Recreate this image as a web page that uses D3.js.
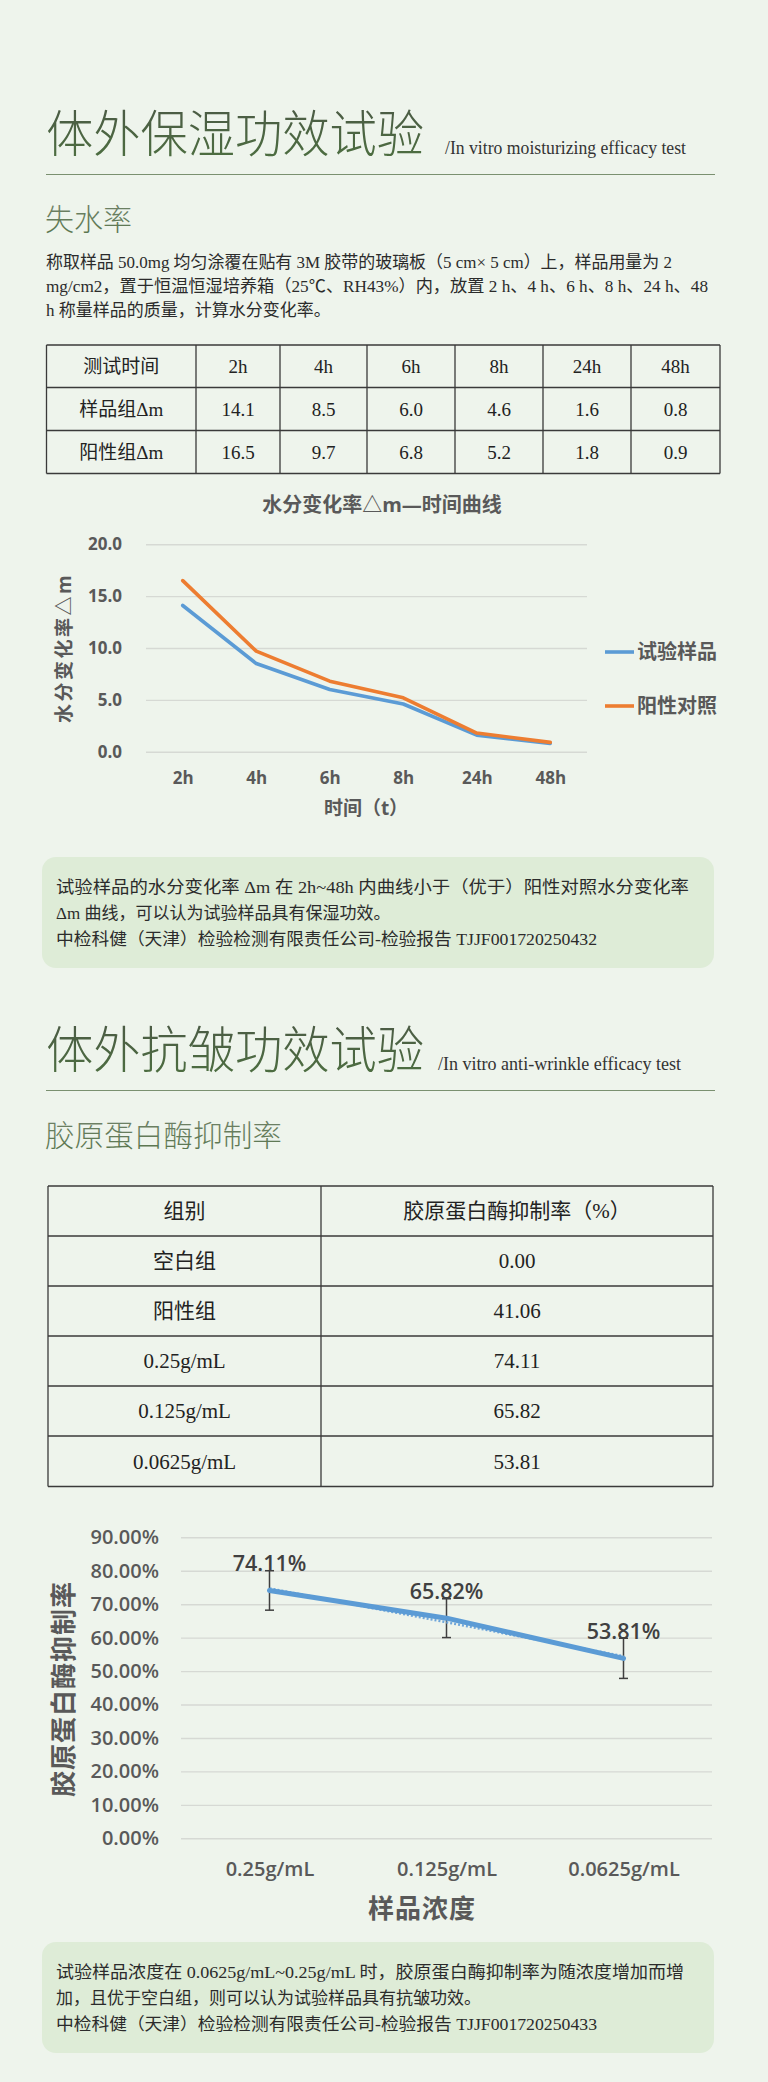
<!DOCTYPE html>
<html>
<head>
<meta charset="utf-8">
<script src="https://cdn.jsdelivr.net/npm/d3@7"></script>
<style>
  html, body { margin: 0; padding: 0; background: #eef4ec; }
  svg { display: block; }
</style>
</head>
<body>
<svg id="page" width="768" height="2082"></svg>
<script>
// ---- data ----
var timePoints = ["2h", "4h", "6h", "8h", "24h", "48h"];
var sampleDelta = [14.1, 8.5, 6.0, 4.6, 1.6, 0.8];
var positiveDelta = [16.5, 9.7, 6.8, 5.2, 1.8, 0.9];
var deltaTicks = [0, 5, 10, 15, 20];
var seriesNames = ["试验样品", "阳性对照"];
var waterRowLabels = ["样品组Δm", "阳性组Δm"];

var groups = ["空白组", "阳性组", "0.25g/mL", "0.125g/mL", "0.0625g/mL"];
var inhibition = [0.00, 41.06, 74.11, 65.82, 53.81];
var concentrations = ["0.25g/mL", "0.125g/mL", "0.0625g/mL"];
var concInhibition = [74.11, 65.82, 53.81];
var concError = [5.9, 5.8, 6.0];
var inhibitionTicks = [0, 10, 20, 30, 40, 50, 60, 70, 80, 90];

var introLines = [
  "称取样品 50.0mg 均匀涂覆在贴有 3M 胶带的玻璃板（5 cm× 5 cm）上，样品用量为 2",
  "mg/cm2，置于恒温恒湿培养箱（25℃、RH43%）内，放置 2 h、4 h、6 h、8 h、24 h、48",
  "h 称量样品的质量，计算水分变化率。"
];
var note1Lines = [
  "试验样品的水分变化率 Δm 在 2h~48h 内曲线小于（优于）阳性对照水分变化率",
  "Δm 曲线，可以认为试验样品具有保湿功效。",
  "中检科健（天津）检验检测有限责任公司-检验报告 TJJF001720250432"
];
var note2Lines = [
  "试验样品浓度在 0.0625g/mL~0.25g/mL 时，胶原蛋白酶抑制率为随浓度增加而增",
  "加，且优于空白组，则可以认为试验样品具有抗皱功效。",
  "中检科健（天津）检验检测有限责任公司-检验报告 TJJF001720250433"
];

// ---- styles ----
var SERIF = '"Liberation Serif","Noto Sans CJK SC",serif';
var SANS = '"Open Sans","Noto Sans CJK SC",sans-serif';
var CJK = '"Noto Sans CJK SC",sans-serif';
var GRAY = "#595959";

var svg = d3.select("#page");
svg.append("rect").attr("width", 768).attr("height", 2082).attr("fill", "#eef4ec");

var defs = svg.append("defs");
function gradient(id, top, bottom) {
  var g = defs.append("linearGradient").attr("id", id)
    .attr("x1", 0).attr("y1", 0).attr("x2", 0).attr("y2", 1);
  g.append("stop").attr("offset", "0%").attr("stop-color", top);
  g.append("stop").attr("offset", "100%").attr("stop-color", bottom);
}
gradient("titleGrad", "#4b5646", "#4d7140");
gradient("subGrad", "#75846d", "#56744a");

// heading block: big title, english subtitle and rule
function heading(y, title, english, engX, engW) {
  svg.append("text").attr("x", 46).attr("y", y)
    .attr("font-family", CJK).attr("font-weight", 300).attr("font-size", 50)
    .attr("textLength", 378).attr("lengthAdjust", "spacingAndGlyphs")
    .attr("fill", "url(#titleGrad)").text(title);
  svg.append("text").attr("x", engX).attr("y", y + 2)
    .attr("font-family", SERIF).attr("font-size", 18)
    .attr("textLength", engW).attr("lengthAdjust", "spacingAndGlyphs")
    .attr("fill", "#333").text(english);
  svg.append("line").attr("x1", 46).attr("x2", 715)
    .attr("y1", y + 22.5).attr("y2", y + 22.5)
    .attr("stroke", "#7a9070").attr("stroke-width", 1.2);
}

function subheading(y, text, w) {
  svg.append("text").attr("x", 45).attr("y", y)
    .attr("font-family", CJK).attr("font-weight", 300).attr("font-size", 30)
    .attr("textLength", w).attr("lengthAdjust", "spacingAndGlyphs")
    .attr("fill", "url(#subGrad)").text(text);
}

function textLines(lines, x, y0, step, widths) {
  lines.forEach(function(t, i) {
    var el = svg.append("text").attr("x", x).attr("y", y0 + i * step)
      .attr("dy", "0.35em")
      .attr("font-family", SERIF).attr("font-size", 17)
      .attr("fill", "#2b2b2b").text(t);
    if (widths[i]) el.attr("textLength", widths[i]).attr("lengthAdjust", "spacingAndGlyphs");
  });
}

function grid(xs, ys, cells, fontSize) {
  var g = svg.append("g");
  ys.forEach(function(y) {
    g.append("line").attr("x1", xs[0]).attr("x2", xs[xs.length - 1])
      .attr("y1", y).attr("y2", y).attr("stroke", "#3a3a3a").attr("stroke-width", 1.3);
  });
  xs.forEach(function(x) {
    g.append("line").attr("x1", x).attr("x2", x)
      .attr("y1", ys[0]).attr("y2", ys[ys.length - 1]).attr("stroke", "#3a3a3a").attr("stroke-width", 1.3);
  });
  cells.forEach(function(row, r) {
    row.forEach(function(c, k) {
      g.append("text")
        .attr("x", (xs[k] + xs[k + 1]) / 2)
        .attr("y", (ys[r] + ys[r + 1]) / 2)
        .attr("dy", "0.35em").attr("text-anchor", "middle")
        .attr("font-family", SERIF).attr("font-size", fontSize)
        .attr("fill", "#222").text(c);
    });
  });
}

function noteBox(y, h, lines, widths) {
  svg.append("rect").attr("x", 42).attr("y", y).attr("width", 672).attr("height", h)
    .attr("rx", 14).attr("fill", "#deecd7");
  textLines(lines, 56, y + 30, 26.2, widths);
}

// ================= section 1 =================
heading(152, "体外保湿功效试验", "/In vitro moisturizing efficacy test", 445, 241);
subheading(230, "失水率", 87);
textLines(introLines, 46, 262, 24, [626, 662, 0]);

var table1 = [["测试时间"].concat(timePoints),
  [waterRowLabels[0]].concat(sampleDelta.map(function(v) { return v.toFixed(1); })),
  [waterRowLabels[1]].concat(positiveDelta.map(function(v) { return v.toFixed(1); }))];
grid([46.5, 196, 280, 367, 455, 543, 631, 720], [345, 387.5, 430.5, 473.5], table1, 19);

// ---- chart 1 ----
(function() {
  var x = d3.scalePoint().domain(timePoints).range([146, 587]).padding(0.5);
  var y = d3.scaleLinear().domain([0, 20]).range([751.7, 544.3]);
  var g = svg.append("g");

  g.append("text").attr("x", 382).attr("y", 505).attr("dy", "0.35em")
    .attr("text-anchor", "middle").attr("font-family", SANS).attr("font-weight", 700)
    .attr("font-size", 20).attr("fill", GRAY).text("水分变化率△m—时间曲线");

  var yAxis = g.append("g").attr("transform", "translate(146,0)")
    .call(d3.axisLeft(y).tickValues(deltaTicks).tickSize(-441).tickPadding(24)
      .tickFormat(d3.format(".1f")));
  yAxis.select(".domain").remove();
  yAxis.selectAll("line").attr("stroke", "#d6d9d4").attr("stroke-width", 1.4);
  yAxis.selectAll("text").attr("font-family", SANS).attr("font-weight", 700)
    .attr("font-size", 17).attr("fill", GRAY);

  var xAxis = g.append("g").attr("transform", "translate(0,751.7)")
    .call(d3.axisBottom(x).tickSize(0).tickPadding(0));
  xAxis.select(".domain").remove();
  xAxis.selectAll("text").attr("y", 26).attr("dy", "0.35em")
    .attr("font-family", SANS).attr("font-weight", 700)
    .attr("font-size", 17).attr("fill", GRAY);

  g.append("text").attr("x", 366).attr("y", 808).attr("dy", "0.35em")
    .attr("text-anchor", "middle").attr("font-family", SANS).attr("font-weight", 700)
    .attr("font-size", 19).attr("fill", GRAY).text("时间（t）");

  g.append("text").attr("transform", "translate(64,648) rotate(-90)")
    .attr("dy", "0.35em").attr("text-anchor", "middle")
    .attr("font-family", SANS).attr("font-weight", 700).attr("font-size", 19)
    .attr("letter-spacing", 2.5).attr("fill", GRAY).text("水分变化率△m");

  var line = d3.line().x(function(d, i) { return x(timePoints[i]); }).y(function(d) { return y(d); });
  var colors = ["#5b9bd5", "#ed7d31"];
  [sampleDelta, positiveDelta].forEach(function(s, k) {
    g.append("path").datum(s).attr("d", line).attr("fill", "none")
      .attr("stroke", colors[k]).attr("stroke-width", 3.6)
      .attr("stroke-linejoin", "round").attr("stroke-linecap", "round");
  });

  var legendY = [652, 706];
  seriesNames.forEach(function(n, k) {
    g.append("line").attr("x1", 605).attr("x2", 634).attr("y1", legendY[k]).attr("y2", legendY[k])
      .attr("stroke", colors[k]).attr("stroke-width", 3.6);
    g.append("text").attr("x", 637).attr("y", legendY[k]).attr("dy", "0.35em")
      .attr("font-family", SANS).attr("font-weight", 700).attr("font-size", 20)
      .attr("fill", GRAY).text(n);
  });
})();

noteBox(857, 111, note1Lines, [633, 0, 541]);

// ================= section 2 =================
heading(1068, "体外抗皱功效试验", "/In vitro anti-wrinkle efficacy test", 438, 243);
subheading(1146, "胶原蛋白酶抑制率", 237);

var table2 = [["组别", "胶原蛋白酶抑制率（%）"]].concat(groups.map(function(gname, i) {
  return [gname, inhibition[i].toFixed(2)];
}));
grid([48, 321, 713], [1186, 1236, 1286, 1336, 1386, 1436, 1486.5], table2, 21);

// ---- chart 2 ----
(function() {
  var x = d3.scalePoint().domain(concentrations).range([181, 712]).padding(0.5);
  var y = d3.scaleLinear().domain([0, 90]).range([1838.3, 1537.3]);
  var g = svg.append("g");

  var yAxis = g.append("g").attr("transform", "translate(181,0)")
    .call(d3.axisLeft(y).tickValues(inhibitionTicks).tickSize(-531).tickPadding(22)
      .tickFormat(function(d) { return d.toFixed(2) + "%"; }));
  yAxis.select(".domain").remove();
  yAxis.selectAll("line").attr("stroke", "#d6d9d4").attr("stroke-width", 1.4);
  yAxis.selectAll("text").attr("font-family", SANS).attr("font-weight", 600)
    .attr("font-size", 20).attr("fill", GRAY);

  var xAxis = g.append("g").attr("transform", "translate(0,1838.3)")
    .call(d3.axisBottom(x).tickSize(0).tickPadding(0));
  xAxis.select(".domain").remove();
  xAxis.selectAll("text").attr("y", 31).attr("dy", "0.35em")
    .attr("font-family", SANS).attr("font-weight", 600)
    .attr("font-size", 20).attr("fill", GRAY);

  g.append("text").attr("x", 422).attr("y", 1909).attr("dy", "0.35em")
    .attr("text-anchor", "middle").attr("font-family", SANS).attr("font-weight", 700)
    .attr("font-size", 26).attr("letter-spacing", 1).attr("fill", GRAY).text("样品浓度");

  g.append("text").attr("transform", "translate(64,1689) rotate(-90)")
    .attr("dy", "0.35em").attr("text-anchor", "middle")
    .attr("font-family", SANS).attr("font-weight", 700).attr("font-size", 26)
    .attr("letter-spacing", 1).attr("fill", GRAY).text("胶原蛋白酶抑制率");

  // error bars
  concentrations.forEach(function(c, i) {
    var cx = x(c), top = y(concInhibition[i] + concError[i]), bot = y(concInhibition[i] - concError[i]);
    g.append("line").attr("x1", cx).attr("x2", cx).attr("y1", top).attr("y2", bot)
      .attr("stroke", "#3f3f3f").attr("stroke-width", 1.5);
    [top, bot].forEach(function(yy) {
      g.append("line").attr("x1", cx - 4.5).attr("x2", cx + 4.5).attr("y1", yy).attr("y2", yy)
        .attr("stroke", "#3f3f3f").attr("stroke-width", 1.5);
    });
  });

  // linear trend (least squares over the three points)
  var idx = concentrations.map(function(c, i) { return i; });
  var mx = d3.mean(idx), my = d3.mean(concInhibition);
  var slope = d3.sum(idx, function(i) { return (i - mx) * (concInhibition[i] - my); }) /
              d3.sum(idx, function(i) { return (i - mx) * (i - mx); });
  var trend = idx.map(function(i) { return my + slope * (i - mx); });
  g.append("path").datum(trend)
    .attr("d", d3.line().x(function(d, i) { return x(concentrations[i]); }).y(function(d) { return y(d); }))
    .attr("fill", "none").attr("stroke", "#6fa6da").attr("stroke-width", 2.4)
    .attr("stroke-dasharray", "2,2");

  g.append("path").datum(concInhibition)
    .attr("d", d3.line().x(function(d, i) { return x(concentrations[i]); }).y(function(d) { return y(d); }))
    .attr("fill", "none").attr("stroke", "#5b9bd5").attr("stroke-width", 5)
    .attr("stroke-linecap", "round").attr("stroke-linejoin", "round");

  concentrations.forEach(function(c, i) {
    g.append("text").attr("x", x(c)).attr("y", y(concInhibition[i]) - 26.5).attr("dy", "0.35em")
      .attr("text-anchor", "middle").attr("font-family", SANS).attr("font-weight", 600)
      .attr("font-size", 21.5).attr("fill", "#404040")
      .text(concInhibition[i].toFixed(2) + "%");
  });
})();

noteBox(1942, 111, note2Lines, [628, 0, 541]);
</script>
</body>
</html>
